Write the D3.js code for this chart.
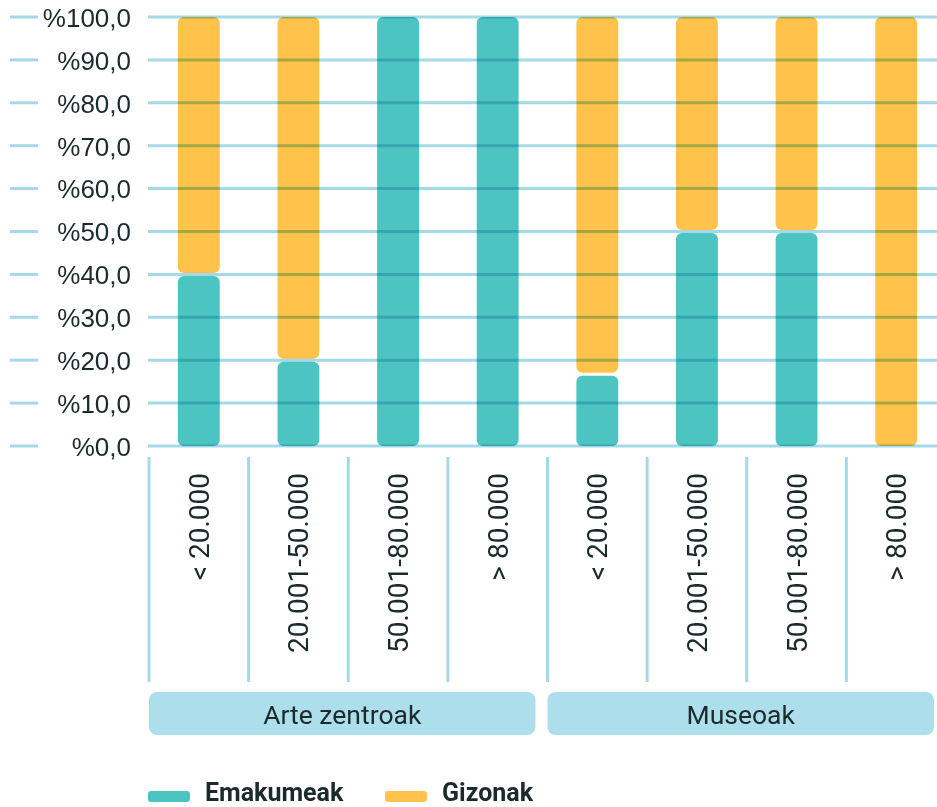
<!DOCTYPE html>
<html>
<head>
<meta charset="utf-8">
<script src="https://cdn.jsdelivr.net/npm/d3@7"></script>
<style>
  body { margin: 0; background: #fff; }
  svg { display: block; font-family: Roboto, "Noto Sans", sans-serif; }
</style>
</head>
<body>
<svg width="937" height="807"></svg>
<script>
// categorias (tramos de poblacion) y grupos
var groups = ["Arte zentroak", "Museoak"];
var ranges = ["< 20.000", "20.001-50.000", "50.001-80.000", "> 80.000"];
var seriesNames = ["Emakumeak", "Gizonak"];
// porcentajes por grupo, tramo
var emakumeak = [40, 20, 100, 100, 16.7, 50, 50, 0];
var gizonak   = [60, 80, 0, 0, 83.3, 50, 50, 100];
var yTicks = [0, 10, 20, 30, 40, 50, 60, 70, 80, 90, 100];

var colors = ["#4cc4c2", "#ffc34b"];
var gridColor = "#a6d9e8";
var textColor = "#1b2a2b";

var cats = [];
groups.forEach(function(g, gi){
  ranges.forEach(function(r, ri){
    var i = gi * ranges.length + ri;
    cats.push({ id: g + "|" + r, group: g, label: r, w: emakumeak[i], m: gizonak[i] });
  });
});

var svg = d3.select("svg");

var x = d3.scaleBand()
  .domain(cats.map(function(d){ return d.id; }))
  .range([149, 946])
  .paddingInner(0.58)
  .paddingOuter(0.29);

var y = d3.scaleLinear().domain([0, 100]).range([446, 17]);

var step = x.step();
var left0 = x.range()[0];

// barras
var gap = 1.5;
var barG = svg.append("g");
cats.forEach(function(d){
  if (d.w > 0) {
    barG.append("rect")
      .attr("x", x(d.id))
      .attr("width", x.bandwidth())
      .attr("y", y(d.w) + (d.m > 0 ? gap : 0))
      .attr("height", y(0) - y(d.w) - (d.m > 0 ? gap : 0))
      .attr("rx", 6)
      .attr("fill", colors[0]);
  }
  if (d.m > 0) {
    barG.append("rect")
      .attr("x", x(d.id))
      .attr("width", x.bandwidth())
      .attr("y", y(d.w + d.m))
      .attr("height", y(d.w) - y(d.w + d.m) - (d.w > 0 ? gap : 0))
      .attr("rx", 6)
      .attr("fill", colors[1]);
  }
});

// lineas de la cuadricula (por encima de las barras)
var grid = svg.append("g").style("mix-blend-mode", "multiply");
yTicks.forEach(function(t){
  grid.append("line")
    .attr("x1", 10).attr("x2", 38)
    .attr("y1", y(t)).attr("y2", y(t))
    .attr("stroke", gridColor).attr("stroke-width", 3);
  grid.append("line")
    .attr("x1", 148).attr("x2", 937)
    .attr("y1", y(t)).attr("y2", y(t))
    .attr("stroke", gridColor).attr("stroke-width", 3);
});

// eje y
var yAxis = svg.append("g")
  .attr("transform", "translate(131,0)")
  .call(d3.axisLeft(y).tickValues(yTicks).tickSize(0).tickPadding(0)
    .tickFormat(function(t){ return "%" + t.toFixed(1).replace(".", ","); }));
yAxis.select(".domain").remove();
yAxis.selectAll("text")
  .attr("fill", textColor)
  .style("font-size", "26px")
  .style("font-weight", "500")
  .attr("dy", "0.36em");

// separadores verticales y etiquetas de tramo
cats.forEach(function(d, i){
  var sx = left0 + i * step;
  svg.append("line")
    .attr("x1", sx).attr("x2", sx)
    .attr("y1", 457).attr("y2", 682)
    .attr("stroke", gridColor).attr("stroke-width", 3);
  var cx = x(d.id) + x.bandwidth() / 2;
  svg.append("text")
    .attr("transform", "translate(" + (cx + 10) + ",473) rotate(-90)")
    .attr("text-anchor", "end")
    .attr("fill", textColor)
    .style("font-size", "28px")
    .text(d.label);
});

// cajas de grupo
groups.forEach(function(g, gi){
  var x0 = left0 + gi * ranges.length * step;
  var x1 = left0 + (gi + 1) * ranges.length * step - 12;
  svg.append("rect")
    .attr("x", x0).attr("y", 692)
    .attr("width", x1 - x0).attr("height", 43)
    .attr("rx", 8)
    .attr("fill", "#addeeb");
  svg.append("text")
    .attr("x", (x0 + x1) / 2)
    .attr("y", 724)
    .attr("text-anchor", "middle")
    .attr("fill", textColor)
    .style("font-size", "26.5px")
    .text(g);
});

// leyenda
var legendX = [148, 385];
seriesNames.forEach(function(s, i){
  svg.append("rect")
    .attr("x", legendX[i]).attr("y", 791)
    .attr("width", 42).attr("height", 11)
    .attr("rx", 3)
    .attr("fill", colors[i]);
  svg.append("text")
    .attr("x", legendX[i] + 57).attr("y", 801)
    .attr("fill", textColor)
    .style("font-size", "25px")
    .style("font-weight", "bold")
    .text(s);
});
</script>
</body>
</html>
